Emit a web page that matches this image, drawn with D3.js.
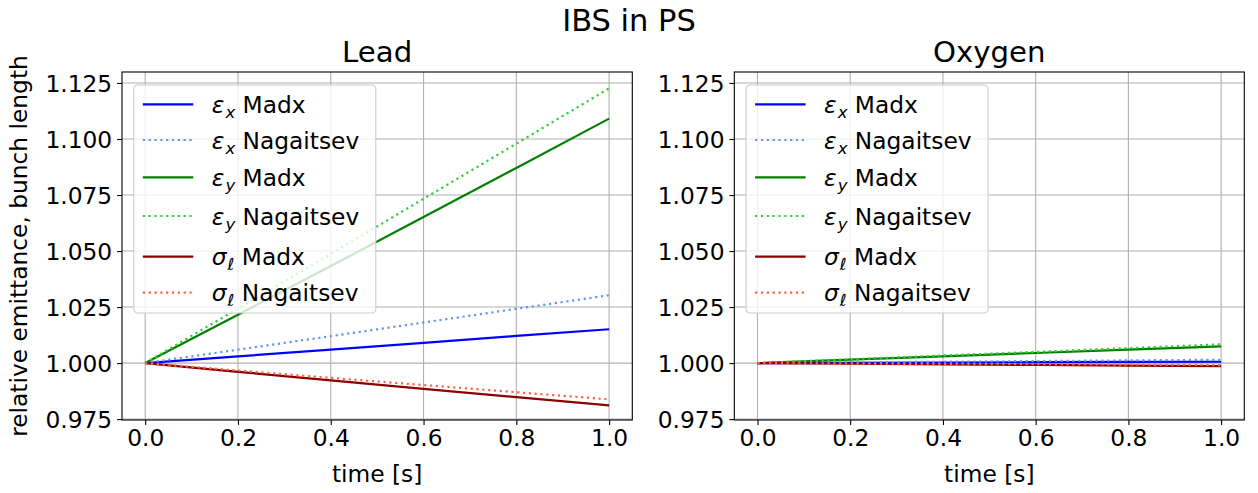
<!DOCTYPE html>
<html>
<head>
<meta charset="utf-8">
<script src="https://cdn.jsdelivr.net/npm/d3@7"></script>
<style>
  html, body { margin: 0; padding: 0; background: #fff; }
  svg text { font-family: "DejaVu Sans", sans-serif; fill: #000; }
</style>
</head>
<body>
<svg id="chart" width="1258" height="493"></svg>
<script>
// time samples [s]
const time = [0.0, 0.2, 0.4, 0.6, 0.8, 1.0];

// Lead ions: relative emittances and bunch length
const leadExMadx = [1.0000, 1.0030, 1.0060, 1.0090, 1.0121, 1.0151];
const leadExNag  = [1.0000, 1.0060, 1.0120, 1.0181, 1.0242, 1.0303];
const leadEyMadx = [1.0000, 1.0216, 1.0433, 1.0652, 1.0871, 1.1091];
const leadEyNag  = [1.0000, 1.0243, 1.0487, 1.0733, 1.0979, 1.1226];
const leadSlMadx = [1.0000, 0.9961, 0.9923, 0.9885, 0.9848, 0.9811];
const leadSlNag  = [1.0000, 0.9967, 0.9934, 0.9902, 0.9870, 0.9838];

// Oxygen ions
const oxyExMadx = [1.0000, 1.0001, 1.0002, 1.0004, 1.0005, 1.0006];
const oxyExNag  = [1.0000, 1.0003, 1.0006, 1.0009, 1.0012, 1.0015];
const oxyEyMadx = [1.0000, 1.0015, 1.0030, 1.0045, 1.0060, 1.0075];
const oxyEyNag  = [1.0000, 1.0017, 1.0034, 1.0050, 1.0067, 1.0084];
const oxySlMadx = [1.0000, 0.9997, 0.9994, 0.9992, 0.9989, 0.9986];
const oxySlNag  = [1.0000, 0.9998, 0.9996, 0.9995, 0.9993, 0.9991];

// series metadata
const seriesSym   = ["ε", "ε", "ε", "ε", "σ", "σ"];
const seriesSub   = ["x", "x", "y", "y", "ℓ", "ℓ"];
const seriesCode  = ["Madx", "Nagaitsev", "Madx", "Nagaitsev", "Madx", "Nagaitsev"];
const seriesColor = ["#0000ff", "#6495ed", "#008000", "#32cd32", "#8b0000", "#ff6347"];
const seriesDotted = [false, true, false, true, false, true];

const xTicks = [0.0, 0.2, 0.4, 0.6, 0.8, 1.0];
const yTicks = [0.975, 1.000, 1.025, 1.050, 1.075, 1.100, 1.125];

const panels = [
  { title: "Lead",   series: [leadExMadx, leadExNag, leadEyMadx, leadEyNag, leadSlMadx, leadSlNag] },
  { title: "Oxygen", series: [oxyExMadx, oxyExNag, oxyEyMadx, oxyEyNag, oxySlMadx, oxySlNag] }
];

const svg = d3.select("#chart");
const W = 1258;
const plotTop = 72, plotBottom = 420;
const panelX = [[122, 632.3], [734.3, 1244.3]];
const lw = 2.2;
const baseFont = 23.3;

svg.append("text")
  .attr("x", W / 2).attr("y", 31)
  .attr("text-anchor", "middle")
  .style("font-size", "30.5px")
  .text("IBS in PS");

svg.append("text")
  .attr("transform", `translate(27,${(plotTop + plotBottom) / 2}) rotate(-90)`)
  .attr("text-anchor", "middle")
  .style("font-size", baseFont + "px")
  .text("relative emittance, bunch length");

// legend row centres relative to the legend box top
const rowY = [19.3, 55, 92.3, 131, 171.7, 207.7];

panels.forEach((p, pi) => {
  const [x0, x1] = panelX[pi];
  const x = d3.scaleLinear().domain([-0.05, 1.05]).range([x0, x1]);
  const y = d3.scaleLinear().domain([0.9746, 1.1299]).range([plotBottom, plotTop]);
  const g = svg.append("g");

  // grid
  g.append("g").selectAll("line").data(xTicks).join("line")
    .attr("x1", d => x(d)).attr("x2", d => x(d))
    .attr("y1", plotTop).attr("y2", plotBottom)
    .attr("stroke", "#b0b0b0").attr("stroke-width", 1.1);
  g.append("g").selectAll("line").data(yTicks).join("line")
    .attr("x1", x0).attr("x2", x1)
    .attr("y1", d => y(d)).attr("y2", d => y(d))
    .attr("stroke", "#b0b0b0").attr("stroke-width", 1.1);

  // series lines
  const line = d3.line().x((d, i) => x(time[i])).y(d => y(d));
  p.series.forEach((vals, si) => {
    g.append("path")
      .datum(vals)
      .attr("d", line)
      .attr("fill", "none")
      .attr("stroke", seriesColor[si])
      .attr("stroke-width", lw)
      .attr("stroke-dasharray", seriesDotted[si] ? `${lw},${lw * 1.65}` : null);
  });

  // axes
  const xAxis = d3.axisBottom(x).tickValues(xTicks).tickFormat(d3.format(".1f"))
    .tickSizeOuter(0).tickSizeInner(4.9).tickPadding(4.9);
  const yAxis = d3.axisLeft(y).tickValues(yTicks).tickFormat(d3.format(".3f"))
    .tickSizeOuter(0).tickSizeInner(4.9).tickPadding(4.9);
  const gx = g.append("g").attr("transform", `translate(0,${plotBottom})`).call(xAxis);
  const gy = g.append("g").attr("transform", `translate(${x0},0)`).call(yAxis);
  [gx, gy].forEach(a => {
    a.select(".domain").remove();
    a.selectAll(".tick line").attr("stroke", "#000").attr("stroke-width", 1.1);
    a.selectAll(".tick text").style("font-size", baseFont + "px")
      .style("font-family", "DejaVu Sans, sans-serif").attr("fill", "#000");
  });
  gy.selectAll(".tick text").attr("dy", "0.36em");

  // frame
  g.append("rect")
    .attr("x", x0).attr("y", plotTop)
    .attr("width", x1 - x0).attr("height", plotBottom - plotTop)
    .attr("fill", "none").attr("stroke", "#000").attr("stroke-width", 1.1);

  // titles
  g.append("text")
    .attr("x", (x0 + x1) / 2).attr("y", 62)
    .attr("text-anchor", "middle")
    .style("font-size", "29.2px")
    .text(p.title);
  g.append("text")
    .attr("x", (x0 + x1) / 2).attr("y", 482)
    .attr("text-anchor", "middle")
    .style("font-size", baseFont + "px")
    .text("time [s]");

  // legend
  const lx = x0 + 11.8, ly = 85;
  const leg = g.append("g").attr("transform", `translate(${lx},${ly})`);
  leg.append("rect")
    .attr("x", 0).attr("y", 0).attr("width", 242).attr("height", 228)
    .attr("rx", 4).attr("ry", 4)
    .attr("fill", "#fff").attr("fill-opacity", 0.8)
    .attr("stroke", "#cccccc").attr("stroke-width", 1.1);
  seriesCode.forEach((c, si) => {
    const cy = rowY[si];
    leg.append("line")
      .attr("x1", 9).attr("x2", 59.5).attr("y1", cy).attr("y2", cy)
      .attr("stroke", seriesColor[si]).attr("stroke-width", lw)
      .attr("stroke-dasharray", seriesDotted[si] ? `${lw},${lw * 1.65}` : null);
    const t = leg.append("text")
      .attr("x", 78).attr("y", cy + 8.5)
      .style("font-size", baseFont + "px");
    t.append("tspan").style("font-style", "italic").text(seriesSym[si]);
    t.append("tspan").style("font-style", "italic").style("font-size", "16.5px")
      .attr("dx", 1).attr("dy", 5).text(seriesSub[si]);
    t.append("tspan").attr("dy", -5).text(" " + c);
  });
});
</script>
</body>
</html>
